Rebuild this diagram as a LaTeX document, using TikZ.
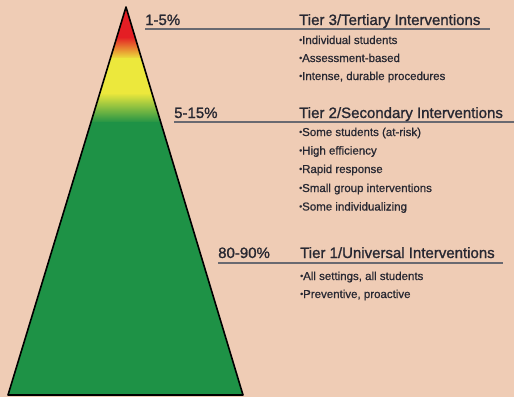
\documentclass[tikz,border=0pt]{standalone}
\usepackage{fontspec}
\setmainfont{Liberation Sans}
\newfontfamily\headfont[FakeBold=1.2]{Liberation Sans}
\newfontfamily\itemfont[FakeBold=0.8]{Liberation Sans}
\definecolor{peach}{RGB}{239,204,181}
\definecolor{tiergreen}{RGB}{30,146,70}
\definecolor{tierred}{RGB}{228,30,36}
\definecolor{tierorange}{RGB}{240,140,40}
\definecolor{tieryellow}{RGB}{236,232,60}
\definecolor{rulegray}{RGB}{105,105,112}
\definecolor{ink}{RGB}{40,40,50}
\newcommand{\bul}{{\fontsize{8.5}{8.5}\selectfont\raisebox{0.15em}{•}}}

\begin{document}
\begin{tikzpicture}[x=1pt, y=-1pt,
  pct/.style = {anchor=base west, inner sep=0pt, text=ink, font=\headfont\fontsize{15}{15}\selectfont},
  head/.style = {pct},
  item/.style = {anchor=base west, inner sep=0pt, text=ink, font=\itemfont\fontsize{11.5}{11.5}\selectfont},
  rule/.style = {draw=rulegray, line width=2.2pt}]
  \fill[peach] (0,0) rectangle (514,397);
  \useasboundingbox (0,0) rectangle (514,397);
  \coordinate (apex) at (126,7);
  \coordinate (bl) at (8,395);
  \coordinate (br) at (243,395);
  \begin{scope}
    \clip (apex) -- (bl) -- (br) -- cycle;
    \fill[tierred] (0,0) rectangle (260,38);
    \shade[top color=tierred, middle color=tierorange, bottom color=tieryellow] (0,37) rectangle (260,59);
    \fill[tieryellow] (0,58) rectangle (260,94);
    \shade[top color=tieryellow, bottom color=tiergreen] (0,93) rectangle (260,123);
    \fill[tiergreen] (0,122) rectangle (260,397);
  \end{scope}
  \draw[line width=1.6pt, line join=round] (apex) -- (bl) -- (br) -- cycle;

  \coordinate (r3a) at (145,29);
  \coordinate (r3b) at (490,29);
  \coordinate (r2a) at (174,122);
  \coordinate (r2b) at (514,122);
  \coordinate (r1a) at (218,263);
  \coordinate (r1b) at (503,263);
  \draw[rule] (r3a) -- (r3b);
  \draw[rule] (r2a) -- (r2b);
  \draw[rule] (r1a) -- (r1b);

  \node[pct] (p3) at (145,25) {1-5\%};
  \node[head] (t3) at (299,25) {Tier 3/Tertiary Interventions};
  \node[item] (t3a) at (299,44) {\bul Individual students};
  \node[item] (t3b) at (299,62) {\bul Assessment-based};
  \node[item] (t3c) at (299,80) {\bul Intense, durable procedures};

  \node[pct] (p2) at (174,118) {5-15\%};
  \node[head] (t2) at (299,118) {Tier 2/Secondary Interventions};
  \node[item] (t2a) at (299,136) {\bul Some students (at-risk)};
  \node[item] (t2b) at (299,154.5) {\bul High efficiency};
  \node[item] (t2c) at (299,173) {\bul Rapid response};
  \node[item] (t2d) at (299,192) {\bul Small group interventions};
  \node[item] (t2e) at (299,210.5) {\bul Some individualizing};

  \node[pct] (p1) at (218,258) {80-90\%};
  \node[head] (t1) at (300,258) {Tier 1/Universal Interventions};
  \node[item] (t1a) at (300,280) {\bul All settings, all students};
  \node[item] (t1b) at (300,298) {\bul Preventive, proactive};
\end{tikzpicture}
\end{document}
